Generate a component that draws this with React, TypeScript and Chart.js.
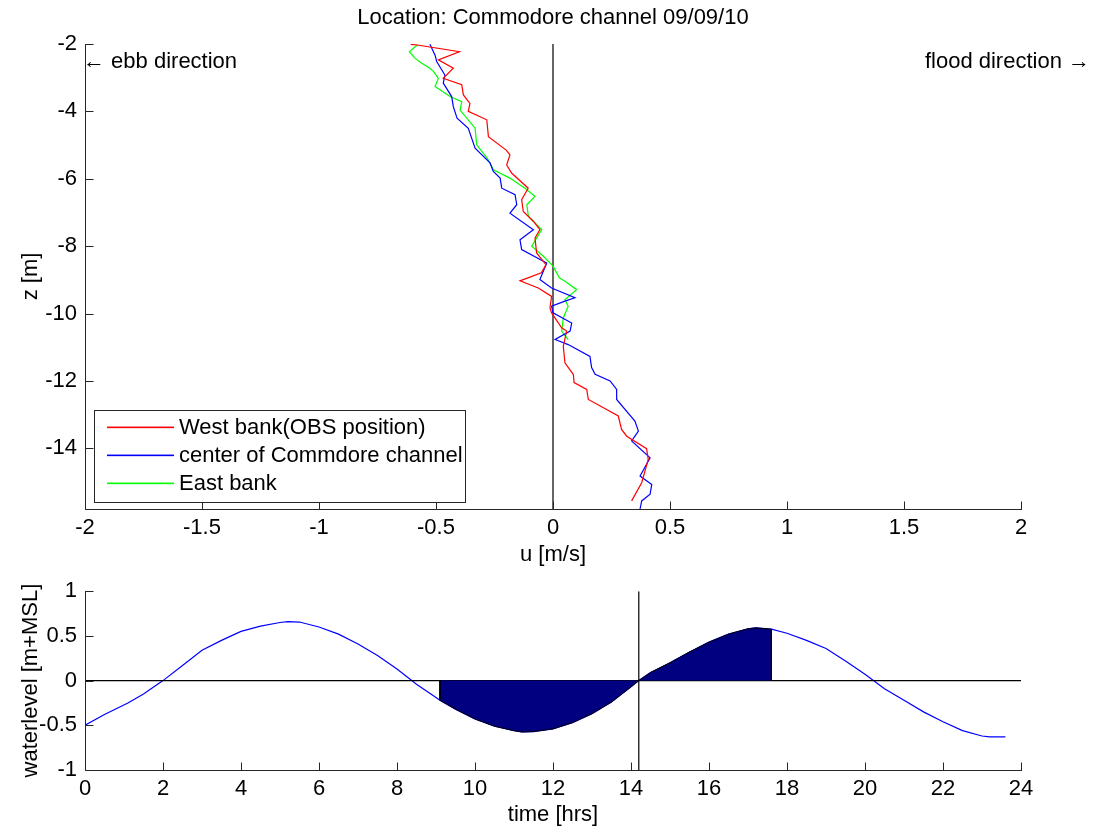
import React, { useEffect, useRef } from 'react';
import { Chart, registerables } from 'chart.js';

Chart.register(...registerables);

const FONT = '"Liberation Sans", Arial, Helvetica, sans-serif';
const FONT_SIZE = 22;
const AXIS_COLOR = '#262626';
const TICK_LEN = 8;

// ---------- velocity profiles (u [m/s], z [m]) ----------
const westU = [-0.608, -0.58, -0.40, -0.49, -0.426, -0.469, -0.39, -0.383, -0.355, -0.362, -0.283, -0.276, -0.20, -0.184, -0.198, -0.177, -0.106, -0.134, -0.127, -0.084, -0.056, -0.077, -0.07, -0.03, -0.05, -0.141, -0.063, -0.006, -0.013, -0.006, 0.037, 0.058, 0.044, 0.051, 0.087, 0.09, 0.144, 0.151, 0.279, 0.293, 0.315, 0.40, 0.407, 0.379, 0.336];
const westZ = [-2.01, -2.03, -2.23, -2.47, -2.72, -3.02, -3.21, -3.51, -3.76, -4.0, -4.25, -4.75, -5.15, -5.29, -5.59, -5.83, -6.28, -6.62, -6.97, -7.26, -7.51, -7.76, -8.2, -8.55, -8.79, -9.03, -9.24, -9.49, -9.83, -9.98, -10.42, -10.52, -10.97, -11.46, -11.81, -12.05, -12.25, -12.55, -13.04, -13.44, -13.64, -14.01, -14.33, -15.02, -15.56];

const centerU = [-0.526, -0.504, -0.497, -0.462, -0.469, -0.433, -0.426, -0.41, -0.362, -0.333, -0.269, -0.255, -0.226, -0.219, -0.162, -0.155, -0.184, -0.084, -0.141, -0.134, -0.027, -0.056, -0.006, 0.094, 0.051, -0.006, 0.0, 0.08, 0.073, 0.009, 0.065, 0.158, 0.165, 0.18, 0.244, 0.272, 0.272, 0.35, 0.365, 0.336, 0.415, 0.372, 0.422, 0.415, 0.379, 0.372];
const centerZ = [-2.01, -2.33, -2.52, -2.92, -3.16, -3.56, -3.86, -4.2, -4.5, -5.09, -5.53, -5.78, -5.98, -6.28, -6.47, -6.77, -7.02, -7.51, -7.81, -8.1, -8.5, -8.99, -9.24, -9.53, -9.63, -9.78, -9.98, -10.28, -10.52, -10.77, -10.92, -11.27, -11.6, -11.8, -12.0, -12.25, -12.55, -13.19, -13.49, -13.78, -14.28, -14.82, -15.07, -15.36, -15.56, -15.8];

const eastU = [-0.58, -0.614, -0.59, -0.561, -0.526, -0.51, -0.49, -0.504, -0.44, -0.39, -0.397, -0.333, -0.326, -0.28, -0.255, -0.184, -0.12, -0.077, -0.112, -0.105, -0.048, -0.091, -0.041, 0.001, 0.027, 0.051, 0.101, 0.051, 0.065, 0.044, 0.037, 0.065];
const eastZ = [-2.03, -2.23, -2.42, -2.57, -2.72, -2.82, -3.02, -3.26, -3.56, -3.71, -3.96, -4.5, -4.99, -5.4, -5.73, -5.98, -6.28, -6.52, -6.77, -7.12, -7.51, -8.0, -8.3, -8.6, -8.94, -9.04, -9.29, -9.59, -9.78, -10.13, -10.52, -10.77];

const seriesLabels = ['West bank(OBS position)', 'center of Commdore channel', 'East bank'];
const seriesColors = ['#ff0000', '#0000ff', '#00ff00'];

const uTicks = [-2, -1.5, -1, -0.5, 0, 0.5, 1, 1.5, 2];
const zTicks = [-14, -12, -10, -8, -6, -4, -2];
const U_MIN = -2, U_MAX = 2, Z_MIN = -15.8, Z_MAX = -2;

// ---------- water level ----------
const timeHrs = [0, 0.5, 1.1, 1.5, 2, 2.5, 3, 3.5, 4, 4.5, 5, 5.2, 5.5, 6, 6.5, 7, 7.5, 8, 8.5, 9, 9.1, 9.5, 10, 10.5, 11, 11.2, 11.5, 12, 12.5, 13, 13.5, 14, 14.2, 14.5, 15, 15.5, 16, 16.5, 17, 17.2, 17.6, 18, 18.5, 19, 19.5, 20, 20.5, 21, 21.5, 22, 22.5, 23, 23.2, 23.6];
const waterLevel = [-0.50, -0.38, -0.25, -0.15, 0.0, 0.17, 0.34, 0.45, 0.55, 0.61, 0.65, 0.66, 0.655, 0.60, 0.52, 0.41, 0.28, 0.13, -0.04, -0.19, -0.22, -0.32, -0.43, -0.51, -0.56, -0.575, -0.57, -0.54, -0.47, -0.37, -0.24, -0.07, 0.0, 0.09, 0.20, 0.32, 0.43, 0.52, 0.58, 0.59, 0.575, 0.53, 0.45, 0.36, 0.22, 0.07, -0.09, -0.22, -0.35, -0.46, -0.56, -0.62, -0.63, -0.63];
const timeTicks = [0, 2, 4, 6, 8, 10, 12, 14, 16, 18, 20, 22, 24];
const levelTicks = [-1, -0.5, 0, 0.5, 1];
const SHADE_START = 9.1;
const SHADE_END = 17.6;
const SLACK_TIME = 14.2;

const pts = (xs: number[], ys: number[]) => xs.map((x, i) => ({ x, y: ys[i] }));

const axesPlugin = {
  id: 'matlabAxes',
  afterDatasetsDraw(chart: any) {
    const { ctx, chartArea: a, scales } = chart;
    const xs = scales.x, ys = scales.y;
    const bottom = Math.round(a.bottom) + 0.5;
    const left = Math.round(a.left) + 0.5;
    ctx.save();
    ctx.strokeStyle = AXIS_COLOR;
    ctx.lineWidth = 1;
    ctx.beginPath();
    ctx.moveTo(left, Math.round(a.top));
    ctx.lineTo(left, bottom);
    ctx.lineTo(Math.round(a.right) + 1, bottom);
    for (const t of xs.ticks) {
      const p = Math.round(xs.getPixelForValue(t.value)) + 0.5;
      ctx.moveTo(p, bottom);
      ctx.lineTo(p, bottom - TICK_LEN);
    }
    for (const t of ys.ticks) {
      const p = Math.round(ys.getPixelForValue(t.value)) + 0.5;
      ctx.moveTo(left, p);
      ctx.lineTo(left + TICK_LEN, p);
    }
    ctx.stroke();
    ctx.restore();
  },
};

const profileTextPlugin = {
  id: 'profileText',
  afterDraw(chart: any) {
    const { ctx, chartArea: a, scales } = chart;
    ctx.save();
    ctx.font = `${FONT_SIZE}px ${FONT}`;
    ctx.fillStyle = '#000';
    ctx.textBaseline = 'middle';
    ctx.textAlign = 'center';
    ctx.fillText('Location: Commodore channel 09/09/10', (a.left + a.right) / 2, 18);
    const yAnn = scales.y.getPixelForValue(-2.53);
    ctx.textAlign = 'left';
    ctx.fillText('\u2190 ebb direction', a.left - 2, yAnn);
    ctx.textAlign = 'right';
    ctx.fillText('flood direction \u2192', a.right + 69, yAnn);

    // legend box
    const bx = Math.round(a.left) + 9, by = 410, bw = 371, bh = 92;
    ctx.fillStyle = '#fff';
    ctx.fillRect(bx, by, bw, bh);
    ctx.strokeStyle = AXIS_COLOR;
    ctx.lineWidth = 1;
    ctx.strokeRect(bx + 0.5, by + 0.5, bw, bh);
    const rows = [427.3, 455.3, 483.3];
    for (let i = 0; i < seriesLabels.length; i++) {
      ctx.fillStyle = seriesColors[i];
      ctx.fillRect(bx + 13, rows[i] - 0.75, 67, 1.6);
      ctx.fillStyle = '#000';
      ctx.textAlign = 'left';
      ctx.fillText(seriesLabels[i], bx + 85, rows[i] + 1);
    }
    ctx.restore();
  },
};

const tickFont = { family: FONT, size: FONT_SIZE };
const titleFont = { family: FONT, size: FONT_SIZE };

export default function App() {
  const topRef = useRef<HTMLCanvasElement>(null);
  const botRef = useRef<HTMLCanvasElement>(null);

  useEffect(() => {
    const lineDs = (label: string, data: any[], color: string) => ({
      label,
      data,
      showLine: true,
      borderColor: color,
      backgroundColor: color,
      borderWidth: 1.2,
      pointRadius: 0,
      fill: false,
      tension: 0,
    });

    const top = new Chart(topRef.current as HTMLCanvasElement, {
      type: 'scatter',
      data: {
        datasets: [
          lineDs(seriesLabels[0], pts(westU, westZ), seriesColors[0]),
          lineDs(seriesLabels[1], pts(centerU, centerZ), seriesColors[1]),
          lineDs(seriesLabels[2], pts(eastU, eastZ), seriesColors[2]),
          lineDs('u = 0', [{ x: 0, y: Z_MAX }, { x: 0, y: Z_MIN }], '#000'),
        ],
      },
      options: {
        responsive: false,
        animation: false,
        layout: { padding: { left: 0, top: 44, right: 75, bottom: 0 } },
        plugins: { legend: { display: false }, tooltip: { enabled: false }, title: { display: false } },
        scales: {
          x: {
            type: 'linear',
            min: U_MIN,
            max: U_MAX,
            grid: { display: false, drawTicks: false },
            border: { display: false },
            afterBuildTicks: (s: any) => { s.ticks = uTicks.map((value) => ({ value })); },
            afterFit: (s: any) => { s.height = 61; },
            ticks: { color: '#000', font: tickFont, padding: 6, maxRotation: 0, autoSkip: false, callback: (v: any) => String(v) },
            title: { display: true, text: 'u [m/s]', color: '#000', font: titleFont, padding: { top: 0, bottom: 2 } },
          },
          y: {
            type: 'linear',
            min: Z_MIN,
            max: Z_MAX,
            grid: { display: false, drawTicks: false },
            border: { display: false },
            afterBuildTicks: (s: any) => { s.ticks = zTicks.map((value) => ({ value })); },
            afterFit: (s: any) => { s.width = 85; },
            ticks: { color: '#000', font: tickFont, padding: 8, autoSkip: false, callback: (v: any) => String(v) },
            title: { display: true, text: 'z [m]', color: '#000', font: titleFont, padding: { top: 18, bottom: 0 } },
          },
        },
      },
      plugins: [axesPlugin, profileTextPlugin],
    } as any);

    const shade = [
      { x: SHADE_START, y: 0 },
      ...timeHrs
        .map((t, i) => ({ x: t, y: waterLevel[i] }))
        .filter((p) => p.x >= SHADE_START && p.x <= SHADE_END),
      { x: SHADE_END, y: 0 },
    ];

    const bot = new Chart(botRef.current as HTMLCanvasElement, {
      type: 'scatter',
      data: {
        datasets: [
          {
            label: 'shading',
            data: shade,
            showLine: true,
            borderColor: '#000',
            borderWidth: 1,
            backgroundColor: '#000080',
            pointRadius: 0,
            fill: 'origin',
            tension: 0,
          },
          lineDs('zero', [{ x: 0, y: 0 }, { x: 24, y: 0 }], '#000'),
          lineDs('slack', [{ x: SLACK_TIME, y: -1 }, { x: SLACK_TIME, y: 1 }], '#000'),
          lineDs('waterlevel', pts(timeHrs, waterLevel), '#0000ff'),
        ],
      },
      options: {
        responsive: false,
        animation: false,
        layout: { padding: { left: 0, top: 16, right: 75, bottom: 0 } },
        plugins: { legend: { display: false }, tooltip: { enabled: false }, title: { display: false } },
        scales: {
          x: {
            type: 'linear',
            min: 0,
            max: 24,
            grid: { display: false, drawTicks: false },
            border: { display: false },
            afterBuildTicks: (s: any) => { s.ticks = timeTicks.map((value) => ({ value })); },
            afterFit: (s: any) => { s.height = 60; },
            ticks: { color: '#000', font: tickFont, padding: 6, maxRotation: 0, autoSkip: false, callback: (v: any) => String(v) },
            title: { display: true, text: 'time [hrs]', color: '#000', font: titleFont, padding: { top: 0, bottom: 2 } },
          },
          y: {
            type: 'linear',
            min: -1,
            max: 1,
            grid: { display: false, drawTicks: false },
            border: { display: false },
            afterBuildTicks: (s: any) => { s.ticks = levelTicks.map((value) => ({ value })); },
            afterFit: (s: any) => { s.width = 85; },
            ticks: { color: '#000', font: tickFont, padding: 8, autoSkip: false, callback: (v: any) => String(v) },
            title: { display: true, text: 'waterlevel [m+MSL]', color: '#000', font: titleFont, padding: { top: 18, bottom: 0 } },
          },
        },
      },
      plugins: [axesPlugin],
    } as any);

    return () => {
      top.destroy();
      bot.destroy();
    };
  }, []);

  return (
    <div style={{ position: 'fixed', left: 0, top: 0, width: 1096, height: 830, background: '#fff' }}>
      <canvas ref={topRef} width={1096} height={570} style={{ position: 'absolute', left: 0, top: 0, display: 'block' }} />
      <canvas ref={botRef} width={1096} height={260} style={{ position: 'absolute', left: 0, top: 570, display: 'block' }} />
    </div>
  );
}
